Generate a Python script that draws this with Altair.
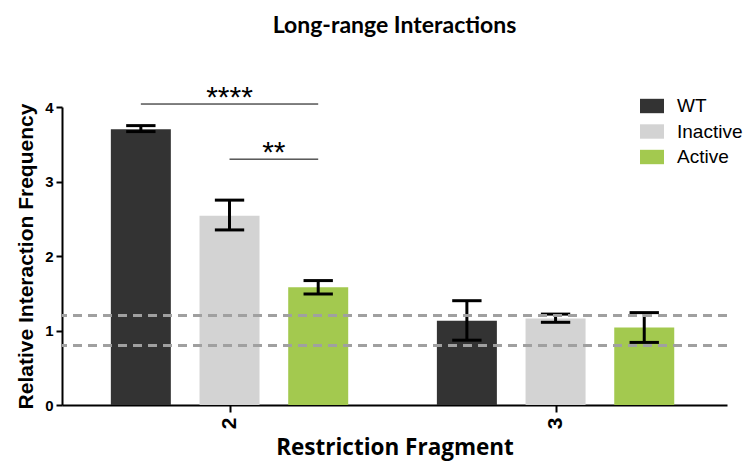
import altair as alt
import pandas as pd

# ---- data ----
groups = ["2", "3"]
series = ["WT", "Inactive", "Active"]
colors = ["#333333", "#d3d3d3", "#a3c94f"]
means = {"WT": [3.70, 1.13], "Inactive": [2.54, 1.16], "Active": [1.58, 1.04]}
lows = {"WT": [3.67, 0.87], "Inactive": [2.35, 1.11], "Active": [1.49, 0.84]}
highs = {"WT": [3.75, 1.40], "Inactive": [2.75, 1.22], "Active": [1.67, 1.24]}
thresholds = [0.8, 1.2]
sig_labels = ["****", "**"]
sig_group = ["2", "2"]
sig_from = ["WT", "Inactive"]
sig_to = ["Active", "Active"]
sig_y = [4.04, 3.30]

# ---- layout (positions in group units) ----
series_step = 0.272
cap_half = 0.045
x_domain = [-0.4985, 1.5105]
ARIAL = "Liberation Sans, Arial, sans-serif"


def pos(g, s):
    return groups.index(g) + (series.index(s) - 1) * series_step


rows = []
for s in series:
    for gi, g in enumerate(groups):
        p = pos(g, s)
        rows.append(dict(group=g, series=s, pos=p, mean=means[s][gi],
                         lo=lows[s][gi], hi=highs[s][gi],
                         cl=p - cap_half, cr=p + cap_half))
df = pd.DataFrame(rows)
caps = pd.concat([
    df[["series", "cl", "cr", "lo"]].rename(columns={"lo": "yv"}),
    df[["series", "cl", "cr", "hi"]].rename(columns={"hi": "yv"}),
])
thr = pd.DataFrame({"t": thresholds})
sig = pd.DataFrame({
    "label": sig_labels,
    "x1": [pos(g, a) for g, a in zip(sig_group, sig_from)],
    "x2": [pos(g, b) for g, b in zip(sig_group, sig_to)],
    "y": sig_y,
})
sig["mid"] = (sig["x1"] + sig["x2"]) / 2

xs = alt.Scale(domain=x_domain, nice=False, zero=False)
ys = alt.Scale(domain=[0, 4], nice=False)
label_expr = " : ".join(
    [f"datum.value == {i} ? '{g}'" for i, g in enumerate(groups)] + ["''"]
)

x_axis = alt.Axis(
    values=list(range(len(groups))), labelExpr=label_expr, title="Restriction Fragment",
    grid=False, domainColor="black", domainWidth=2, tickColor="black", tickWidth=2,
    tickSize=7, labelAngle=-90, labelFont=ARIAL, labelFontSize=21,
    labelFontWeight="bold", labelColor="black", labelPadding=5,
    titleFont="Open Sans", titleFontSize=22.5, titleFontWeight="bold", titleColor="black",
    titlePadding=8,
)
y_axis = alt.Axis(
    values=[0, 1, 2, 3, 4], title="Relative Interaction  Frequency", grid=False,
    domainColor="black", domainWidth=2, tickColor="black", tickWidth=2, tickSize=6,
    labelFont=ARIAL, labelFontSize=15, labelFontWeight="bold",
    labelColor="black", labelPadding=3, titleFont=ARIAL, titleFontSize=21,
    titleFontWeight="bold", titleColor="black", titlePadding=8,
)


def X(f):
    return alt.X(f, scale=xs, axis=x_axis, title="Restriction Fragment")


def Y(f):
    return alt.Y(f, scale=ys, axis=y_axis, title="Relative Interaction  Frequency")


bars = alt.Chart(df).mark_bar(size=60).encode(
    x=X("pos:Q"),
    y=Y("mean:Q"),
    color=alt.Color(
        "series:N",
        scale=alt.Scale(domain=series, range=colors),
        legend=alt.Legend(
            title=None, orient="none", legendX=578, legendY=-13,
            symbolType="M-1,-0.6H1V0.6H-1Z", symbolSize=576, symbolStrokeWidth=0,
            labelFont=ARIAL, labelFontSize=19, labelColor="black",
            labelOffset=13, rowPadding=3.5,
        ),
    ),
)

err = alt.Chart(df).mark_rule(color="black", strokeWidth=3).encode(
    x=X("pos:Q"),
    y=Y("lo:Q"),
    y2="hi:Q",
)
cap = alt.Chart(caps).mark_rule(color="black", strokeWidth=3).encode(
    x=X("cl:Q"),
    x2="cr:Q",
    y=Y("yv:Q"),
)
dash = alt.Chart(thr).mark_rule(color="#a0a0a0", strokeWidth=3, strokeDash=[9, 6]).encode(
    y=Y("t:Q"),
)
sig_line = alt.Chart(sig).mark_rule(color="black", strokeWidth=1).encode(
    x=X("x1:Q"),
    x2="x2:Q",
    y=Y("y:Q"),
)
sig_text = alt.Chart(sig).mark_text(
    font=ARIAL, fontSize=30, color="black", baseline="alphabetic", dy=3
).encode(
    x=X("mid:Q"),
    y=Y("y:Q"),
    text="label:N",
)

chart = alt.layer(bars, err, cap, dash, sig_line, sig_text).properties(
    width=665, height=298,
    title=alt.Title("Long-range Interactions", font="Lato", fontSize=23,
                    fontWeight="bold", color="black", anchor="middle", offset=45),
    autosize=alt.AutoSizeParams(type="none"),
    padding={"left": 54, "top": 99, "right": 19, "bottom": 56},
).configure(background="white").configure_view(stroke=None)

chart.save("out.html", embed_options={"renderer": "svg", "actions": False})
